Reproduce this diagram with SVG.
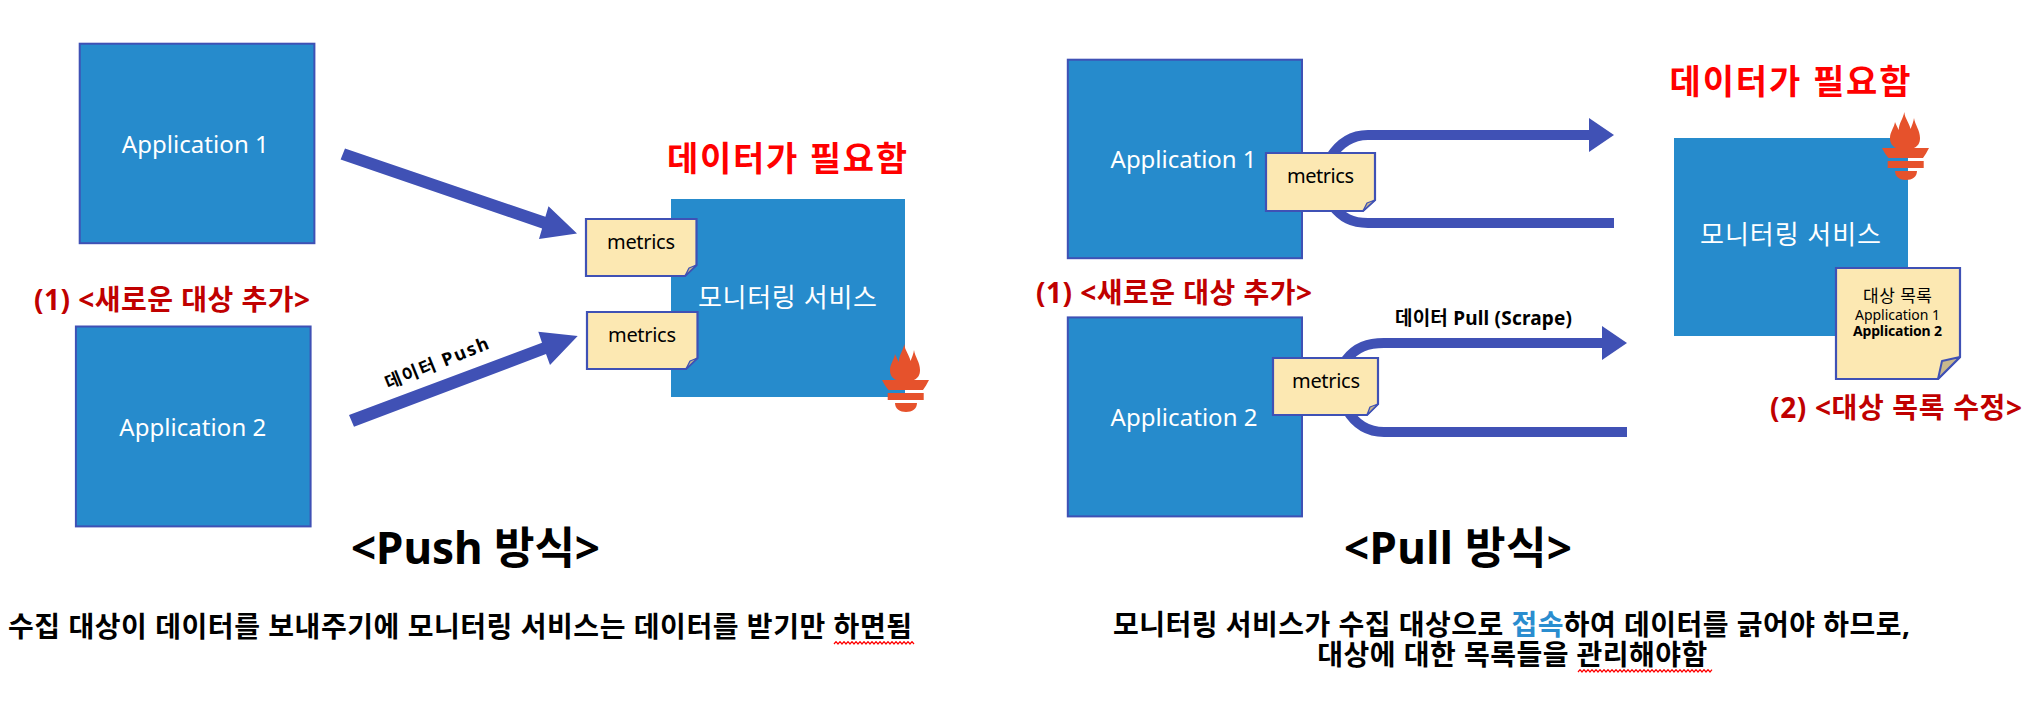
<svg xmlns="http://www.w3.org/2000/svg" xmlns:xlink="http://www.w3.org/1999/xlink" width="2032" height="714" viewBox="0 0 2032 714">
<style>
text{font-family:"Noto Sans","Noto Sans CJK KR","Liberation Sans",sans-serif;fill:#000}
.b{font-weight:700}
.app{fill:#268bcc;stroke:#3f51b5;stroke-width:2}
.mon{fill:#268bcc}
.w{fill:#fff;font-size:24px}
.k{fill:#fff;font-size:26px}
.note{fill:#fce8b2;stroke:#3f51b5;stroke-width:2.2;stroke-linejoin:miter}
.fold{fill:#c9b88c;stroke:#3f51b5;stroke-width:2;stroke-linejoin:round}
.fs{fill:#c9b88c;stroke:#3f51b5;stroke-width:1.3;stroke-linejoin:round}
.m{font-size:20px}
.need{fill:#f00;font-size:34px;font-weight:700}
.add{fill:#c00000;font-size:28px;font-weight:700}
.title{font-size:44px;font-weight:700}
.cap{font-size:28px;font-weight:700}
.shaft{fill:none;stroke:#4051b5;stroke-width:10}
.head{fill:#4051b5}
.sq{fill:none;stroke:#f00;stroke-width:1.2}
.flame{fill:#e6522c}
</style>
<defs>
<g id="torch">
<path class="flame" d="M22.3 0C23 7 27 10 28.500 17C30 13 31.500 10 32 6C33 13 38 18 38 26C38 31 36 34 32 36H47C45 40 43 43 41 46H6.500C4 43 2 40 0 36H14C10 34 8 31 8 26C8 20 12 16 13 10C14 13 15.500 15 16.700 18C17 11 21 7 22.300 0Z"/>
<rect class="flame" x="5.700" y="49" width="36" height="7"/>
<path class="flame" d="M13 59H35C35 65 30 68 24 68C18 68 13 65 13 59Z"/>
</g>
</defs>

<g id="connectors">
<polygon class="head" points="345,148.500 545.400,216.800 548.500,206.300 577,233.600 539,239 542.100,228.400 340.600,159.400"/>
<polygon class="head" points="349,415 542,342.700 538.300,331.700 577.700,336 550,365 546,354 354,426.700"/>
<path class="shaft" d="M1330 158C1340 142 1352 135 1368 135H1592"/>
<polygon class="head" points="1589,118 1614,135 1589,152"/>
<path class="shaft" d="M1332 205C1342 218 1352 223 1368 223H1614"/>
<path class="shaft" d="M1346 360C1356 347 1368 343 1384 343H1605"/>
<polygon class="head" points="1602,326 1627,343 1602,360"/>
<path class="shaft" d="M1347 410C1356 425 1368 432 1384 432H1627"/>
</g>

<g id="push-app1"><rect class="app" x="79.700" y="43.700" width="234.700" height="199.500"/><text class="w" x="121.800" y="153" textLength="147">Application 1</text></g>
<g id="push-app2"><rect class="app" x="75.900" y="326.500" width="234.700" height="199.900"/><text class="w" x="119.300" y="436" textLength="147">Application 2</text></g>
<g id="push-monitor">
<rect class="mon" x="671" y="199" width="234" height="198"/>
<text class="k" x="698" y="307" textLength="179">모니터링 서비스</text>
<use xlink:href="#torch" href="#torch" x="882" y="344"/>
</g>
<g id="push-metrics1"><path class="note" d="M586 219H696.500V265L685 276H586Z"/><path class="fs" d="M696.500 265L689 268L685 276Z"/><text class="m" x="607" y="249" textLength="68">metrics</text></g>
<g id="push-metrics2"><path class="note" d="M587 312H697.500V358L686 369H587Z"/><path class="fs" d="M697.500 358L690 361L686 369Z"/><text class="m" x="608" y="342" textLength="68">metrics</text></g>

<g id="pull-app1"><rect class="app" x="1067.800" y="59.700" width="234.200" height="198.500"/><text class="w" x="1110.600" y="168" textLength="146">Application 1</text></g>
<g id="pull-app2"><rect class="app" x="1067.800" y="317.400" width="234.200" height="199"/><text class="w" x="1110.600" y="426" textLength="147">Application 2</text></g>
<g id="pull-metrics1"><path class="note" d="M1266 153H1375V200L1363 211H1266Z"/><path class="fs" d="M1375 200L1367 203L1363 211Z"/><text class="m" x="1287" y="183" textLength="67">metrics</text></g>
<g id="pull-metrics2"><path class="note" d="M1273 358H1378V404L1367 415H1273Z"/><path class="fs" d="M1378 404L1370 407L1367 415Z"/><text class="m" x="1292" y="388" textLength="68">metrics</text></g>
<g id="pull-monitor">
<rect class="mon" x="1674" y="138" width="234" height="198"/>
<text class="k" x="1700" y="244" textLength="181">모니터링 서비스</text>
<use xlink:href="#torch" href="#torch" x="1882" y="112"/>
</g>
<g id="target-list">
<path class="note" d="M1836 268H1960V357L1938 379H1836Z"/>
<path class="fold" d="M1960 357L1942 361L1938 379Z"/>
<text x="1863" y="302" font-size="17" textLength="69">대상 목록</text>
<text x="1855" y="320" font-size="14" textLength="85">Application 1</text>
<text class="b" x="1853" y="336" font-size="14" textLength="89">Application 2</text>
</g>

<g id="labels">
<text class="need" x="667" y="171" textLength="240">데이터가 필요함</text>
<text class="need" x="1669.500" y="94" textLength="241">데이터가 필요함</text>
<text class="add" x="34" y="309.500" textLength="276">(1) &lt;새로운 대상 추가&gt;</text>
<text class="add" x="1036" y="303" textLength="276">(1) &lt;새로운 대상 추가&gt;</text>
<text class="add" x="1770" y="417.500" textLength="252">(2) &lt;대상 목록 수정&gt;</text>
<text class="b" x="439" y="369" font-size="18" text-anchor="middle" transform="rotate(-22 439 369)" textLength="110">데이터 Push</text>
<text class="b" x="1395" y="325" font-size="19" textLength="177">데이터 Pull (Scrape)</text>
<text class="title" x="351" y="564" textLength="249">&lt;Push 방식&gt;</text>
<text class="title" x="1344" y="564" textLength="228">&lt;Pull 방식&gt;</text>
<text class="cap" x="8" y="637" textLength="904">수집 대상이 데이터를 보내주기에 모니터링 서비스는 데이터를 받기만 하면됨</text>
<text class="cap" x="1113" y="635" textLength="797">모니터링 서비스가 수집 대상으로 <tspan style="fill:#2a8dcf">접속</tspan>하여 데이터를 긁어야 하므로,</text>
<text class="cap" x="1317.300" y="665" textLength="390">대상에 대한 목록들을 관리해야함</text>
<path class="sq" d="M834 644l2 -2.400l2 2.400l2 -2.400l2 2.400l2 -2.400l2 2.400l2 -2.400l2 2.400l2 -2.400l2 2.400l2 -2.400l2 2.400l2 -2.400l2 2.400l2 -2.400l2 2.400l2 -2.400l2 2.400l2 -2.400l2 2.400l2 -2.400l2 2.400l2 -2.400l2 2.400l2 -2.400l2 2.400l2 -2.400l2 2.400l2 -2.400l2 2.400l2 -2.400l2 2.400l2 -2.400l2 2.400l2 -2.400l2 2.400l2 -2.400l2 2.400l2 -2.400l2 2.400"/>
<path class="sq" d="M1578 672l2 -2.400l2 2.400l2 -2.400l2 2.400l2 -2.400l2 2.400l2 -2.400l2 2.400l2 -2.400l2 2.400l2 -2.400l2 2.400l2 -2.400l2 2.400l2 -2.400l2 2.400l2 -2.400l2 2.400l2 -2.400l2 2.400l2 -2.400l2 2.400l2 -2.400l2 2.400l2 -2.400l2 2.400l2 -2.400l2 2.400l2 -2.400l2 2.400l2 -2.400l2 2.400l2 -2.400l2 2.400l2 -2.400l2 2.400l2 -2.400l2 2.400l2 -2.400l2 2.400l2 -2.400l2 2.400l2 -2.400l2 2.400l2 -2.400l2 2.400l2 -2.400l2 2.400l2 -2.400l2 2.400l2 -2.400l2 2.400l2 -2.400l2 2.400l2 -2.400l2 2.400l2 -2.400l2 2.400l2 -2.400l2 2.400l2 -2.400l2 2.400l2 -2.400l2 2.400l2 -2.400l2 2.400l2 -2.400"/>
</g>
</svg>
